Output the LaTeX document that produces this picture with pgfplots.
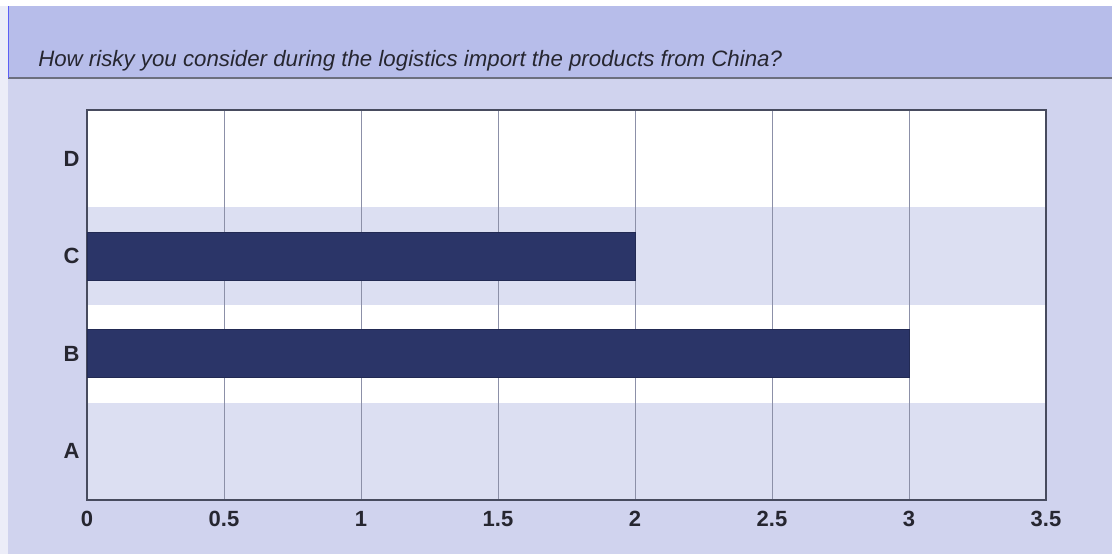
\documentclass[border=0pt]{standalone}
\usepackage{pgfplots}
\pgfplotsset{compat=1.18}
\usepackage{fontspec}
\setmainfont{Liberation Sans}

\definecolor{headbg}{HTML}{B7BDEA}
\definecolor{pagebg}{HTML}{D0D3EE}
\definecolor{band}{HTML}{DCDFF2}
\definecolor{barfill}{HTML}{2B3568}
\definecolor{gridc}{HTML}{8C90A8}
\definecolor{framec}{HTML}{474B5E}
\definecolor{txt}{HTML}{262630}

\begin{document}
\begin{tikzpicture}
  % page, header and row bands (pixel grid of the reference, y measured from bottom)
  \begin{scope}[x=0.75pt,y=0.75pt]
  \useasboundingbox (0,0) rectangle (1112,554);
  \fill[pagebg] (0,0) rectangle (1112,554);
  \fill[white!60!pagebg] (0,0) rectangle (8,554);
  \fill[white] (0,548) rectangle (1112,554);
  \fill[headbg] (8,476) rectangle (1112,548);
  \draw[framec!80, line width=1.2pt] (8,476) -- (1112,476);
  \draw[blue!50!headbg, line width=1pt] (8.5,476) -- (8.5,548);
  \node[anchor=base west, font=\fontsize{16.7}{19}\selectfont\itshape, text=txt, inner sep=0pt]
    at (38,487.5) {How risky you consider during the logistics import the products from China?};
  % plot area: x 87..1046, y 54..444
  \fill[white] (87,54) rectangle (1046,444);
  \fill[band] (87,54) rectangle (1046,151.5);
  \fill[band] (87,249) rectangle (1046,346.5);
  \end{scope}

  \begin{axis}[
      at={(65.25pt,40.5pt)}, anchor=south west,
      scale only axis,
      width=719.25pt, height=292.5pt,
      xmin=0, xmax=3.5,
      ymin=-0.5, ymax=3.5,
      xtick={0,0.5,1,1.5,2,2.5,3,3.5},
      ytick={0,1,2,3},
      yticklabels={A,B,C,D},
      major tick length=0pt,
      xmajorgrids,
      grid style={gridc, line width=0.6pt},
      axis line style={framec, line width=1.4pt},
      tick label style={font=\fontsize{16.5}{18}\selectfont\bfseries, text=txt},
      /pgf/number format/assume math mode=true,
      xticklabel style={yshift=-4pt, text height=12pt, text depth=0pt},
      yticklabel style={xshift=-2pt},
    ]
    \addplot[xbar, bar width=0.49, fill=barfill, draw=barfill!80!black, line width=0.6pt]
      coordinates {(3,1) (2,2)};
  \end{axis}
\end{tikzpicture}
\end{document}
